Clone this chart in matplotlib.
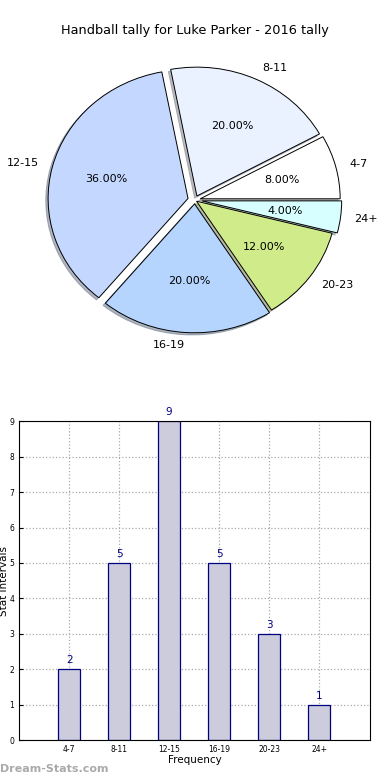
import matplotlib
matplotlib.use("Agg")
import matplotlib.pyplot as plt

labels = ['4-7', '8-11', '12-15', '16-19', '20-23', '24+']
counts = [2, 5, 9, 5, 3, 1]
slice_colors = ['#ffffff', '#eaf2ff', '#c4d8ff', '#b5d5ff', '#d0eb8a', '#d8ffff']
explode = [0.04, 0.035, 0.05, 0.03, 0.015, 0.05]

fig = plt.figure(figsize=(3.9, 7.8), dpi=100)

# pie on top (slightly stretched, not equal aspect)
ax1 = fig.add_axes([0.051, 0.537, 0.897, 0.413])
ax1.pie(counts, labels=labels, colors=slice_colors, explode=explode,
        autopct='%1.2f%%', startangle=0, counterclock=True,
        shadow={'ox': -0.012, 'oy': -0.012, 'shade': 0.5},
        wedgeprops={'edgecolor': 'black', 'linewidth': 0.7},
        textprops={'fontsize': 8}, labeldistance=1.1, pctdistance=0.6)
ax1.set_aspect('auto')
fig.text(0.5, 0.961, 'Handball tally for Luke Parker - 2016 tally',
         ha='center', va='center', fontsize=9.3)

# bar chart below
ax2 = fig.add_axes([0.049, 0.051, 0.9, 0.409])
x = range(len(labels))
ax2.bar(x, counts, width=0.45, color='#ccccdd', edgecolor='#000080', linewidth=0.9, zorder=2)
for i, c in enumerate(counts):
    ax2.text(i, c + 0.12, str(c), ha='center', va='bottom', color='#000080', fontsize=7.5)
ax2.set_xlim(-1, 6.02)
ax2.set_ylim(0, 9)
ax2.set_xticks(list(x))
ax2.set_xticklabels(labels, fontsize=5.5)
ax2.set_yticks(range(10))
ax2.tick_params(axis='y', labelsize=5.5)
ax2.tick_params(length=3, direction='in')
ax2.grid(True, linestyle=':', color='#aaaaaa', linewidth=0.9, zorder=0)
ax2.set_axisbelow(True)
ax2.set_xlabel('Frequency', fontsize=7.5, labelpad=1)
ax2.set_ylabel('Stat Intervals', fontsize=7.5, labelpad=0)

fig.text(0.0, 0.008, 'Dream-Stats.com', fontsize=8, color='#aaaaaa',
         fontweight='bold', ha='left', va='bottom')

fig.savefig('out.png', dpi=100)
